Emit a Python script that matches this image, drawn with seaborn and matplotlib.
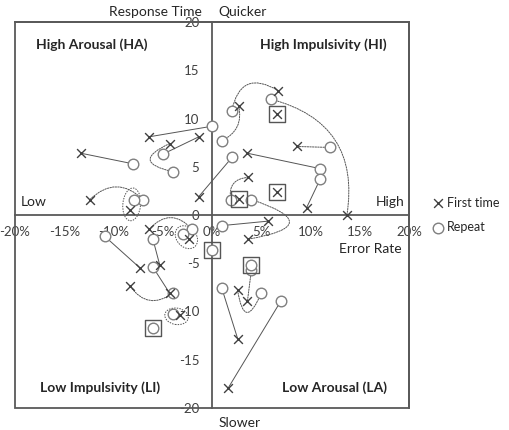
import matplotlib
matplotlib.use('Agg')
import matplotlib.pyplot as plt
from matplotlib.patches import Ellipse, Rectangle
import seaborn as sns
import pandas as pd

# paired observations: first attempt (x) -> repeat (o), error rate % vs response time
first_x = [-13.3, -6.4, -1.35, -4.3, -12.4, -8.3, -1.35, 6.7, 2.7, 13.7, 8.6, 3.6, 9.6, 3.7,
           3.7, 5.65, -6.4, -2.3, -7.3, -5.3, -4.3, -8.3, -3.25, 3.6, 2.6, 2.6, 1.66]
first_y = [6.4, 8.1, 8.1, 7.4, 1.6, 0.5, 1.9, 12.9, 11.3, 0.0, 7.1, 6.4, 0.75, 3.9,
           -2.5, -0.64, -1.5, -2.5, -5.5, -5.2, -8.1, -7.4, -10.4, -8.9, -7.8, -12.8, -17.9]
rep_x = [-8.0, 0.0, -5.0, -4.0, -7.0, -7.9, 2.06, 2.0, 1.0, 6.0, 12.0, 11.0, 11.0, 1.9,
         4.0, 1.0, -2.0, -2.9, -10.9, -6.0, -6.0, -4.0, -4.0, 4.0, 5.0, 1.0, 7.0]
rep_y = [5.3, 9.2, 6.3, 4.5, 1.6, 1.6, 6.0, 10.8, 7.7, 12.0, 7.0, 4.8, 3.75, 1.6,
         1.6, -1.1, -1.5, -1.95, -2.2, -2.5, -5.4, -8.1, -10.3, -5.7, -8.1, -7.6, -8.9]
link_style = ['solid', 'solid', 'solid', 'dotted', 'dotted', 'none', 'solid', 'dotted', 'dotted',
              'dotted', 'dotted', 'solid', 'solid', 'dotted', 'dotted', 'solid', 'dotted', 'none',
              'solid', 'solid', 'solid', 'dotted', 'none', 'dotted', 'dotted', 'solid', 'solid']
link_rad = [0, 0, 0, 1.5, -0.48, 0, 0, 0.7, -0.4, 0.45, 0, 0, 0, 0.55,
            2.0, 0, -0.55, 0, 0, 0, 0, 0.5, 0, 0, 1.75, 0, 0]

# single (boxed) observations
box_first_x = [2.7, 6.6, 6.6]
box_first_y = [1.7, 2.4, 10.5]
box_rep_x = [0.0, 4.0, -6.0]
box_rep_y = [-3.6, -5.2, -11.7]

# circled groups
ell_x = [-8.15, -2.6, -3.6]
ell_y = [1.1, -2.3, -10.5]
ell_w = [1.8, 2.6, 2.4]
ell_h = [3.4, 2.0, 1.7]
ell_angle = [-5, -50, -10]

quad_labels = ['High Arousal (HA)', 'High Impulsivity (HI)', 'Low Impulsivity (LI)', 'Low Arousal (LA)']
ticks = [-20, -15, -10, -5, 0, 5, 10, 15, 20]

sns.set_style('white')
plt.rcParams['font.family'] = ['Lato', 'DejaVu Sans']
plt.rcParams['axes.unicode_minus'] = False

fig = plt.figure(figsize=(5.09, 4.30), dpi=100)
ax = fig.add_axes([15 / 509, 22 / 430, 394 / 509, 386 / 430])

dark = '#404040'
grey = '#7f7f7f'

# connecting lines / curves
for i in range(len(first_x)):
    if link_style[i] == 'none':
        continue
    ls = '-' if link_style[i] == 'solid' else (0, (1.5, 1.2))
    ax.annotate('', xy=(rep_x[i], rep_y[i]), xytext=(first_x[i], first_y[i]),
                arrowprops=dict(arrowstyle='-', connectionstyle=f'arc3,rad={link_rad[i]}',
                                color='#555555', lw=0.7, linestyle=ls,
                                shrinkA=0, shrinkB=0), zorder=1)

for cx, cy, w, h, a in zip(ell_x, ell_y, ell_w, ell_h, ell_angle):
    ax.add_patch(Ellipse((cx, cy), w, h, angle=a, fill=False, ec='#555555',
                         lw=0.7, ls=(0, (1.5, 1.2)), zorder=1))

first = pd.DataFrame({'x': first_x + box_first_x, 'y': first_y + box_first_y})
rep = pd.DataFrame({'x': rep_x + box_rep_x, 'y': rep_y + box_rep_y})
boxes = pd.DataFrame({'x': box_first_x + box_rep_x, 'y': box_first_y + box_rep_y})

sns.scatterplot(data=rep, x='x', y='y', marker='o', s=58, facecolor='white',
                edgecolor=grey, linewidth=1.0, label='Repeat', ax=ax, zorder=3)
sns.scatterplot(data=first, x='x', y='y', marker='x', s=40, color=dark,
                linewidth=1.0, label='First time', ax=ax, zorder=4)
sns.scatterplot(data=boxes, x='x', y='y', marker='s', s=135, facecolor='none',
                edgecolor='#555555', linewidth=1.0, label='_nolegend_', ax=ax, zorder=5)

ax.set_xlim(-20, 20)
ax.set_ylim(-20, 20)
ax.set_xticks(ticks)
ax.set_xticklabels([f'{t}%' for t in ticks])
ax.set_yticks(ticks)
ax.set_yticklabels([str(t) for t in ticks])
ax.set_xlabel('')
ax.set_ylabel('')

ax.spines['left'].set_position(('data', 0))
ax.spines['bottom'].set_position(('data', 0))
for s in ['left', 'bottom', 'top', 'right']:
    ax.spines[s].set_color('#595959')
    ax.spines[s].set_linewidth(1.3)
ax.add_patch(Rectangle((0, 0), 1, 1, transform=ax.transAxes, fill=False,
                       ec='#595959', lw=1.3, clip_on=False, zorder=6))
ax.tick_params(axis='both', length=0, labelsize=9.5, colors='#404040')
ax.tick_params(axis='y', pad=9)
ax.tick_params(axis='x', pad=8)

# quadrant / axis annotations
qfont = dict(fontsize=10, fontweight='bold', color='#262626', ha='center', va='center')
ax.text(-12.2, 17.6, quad_labels[0], **qfont)
ax.text(11.3, 17.6, quad_labels[1], **qfont)
ax.text(-11.4, -17.9, quad_labels[2], **qfont)
ax.text(12.4, -17.9, quad_labels[3], **qfont)

tfont = dict(fontsize=10, color='#262626', va='center')
ax.text(-5.7, 21.0, 'Response Time', ha='center', **tfont)
ax.text(3.1, 21.0, 'Quicker', ha='center', **tfont)
ax.text(2.8, -21.6, 'Slower', ha='center', **tfont)
ax.text(-19.4, 1.3, 'Low', ha='left', **tfont)
ax.text(19.5, 1.3, 'High', ha='right', **tfont)
ax.text(19.3, -3.5, 'Error Rate', ha='right', **tfont)

h, l = ax.get_legend_handles_labels()
order = [l.index('First time'), l.index('Repeat')]
ax.legend([h[i] for i in order], [l[i] for i in order], loc='center left',
          bbox_to_anchor=(1.035, 0.5), frameon=False, fontsize=9,
          handlelength=0.6, handletextpad=0.4, labelspacing=1.0)

plt.savefig('out.png', dpi=100)
